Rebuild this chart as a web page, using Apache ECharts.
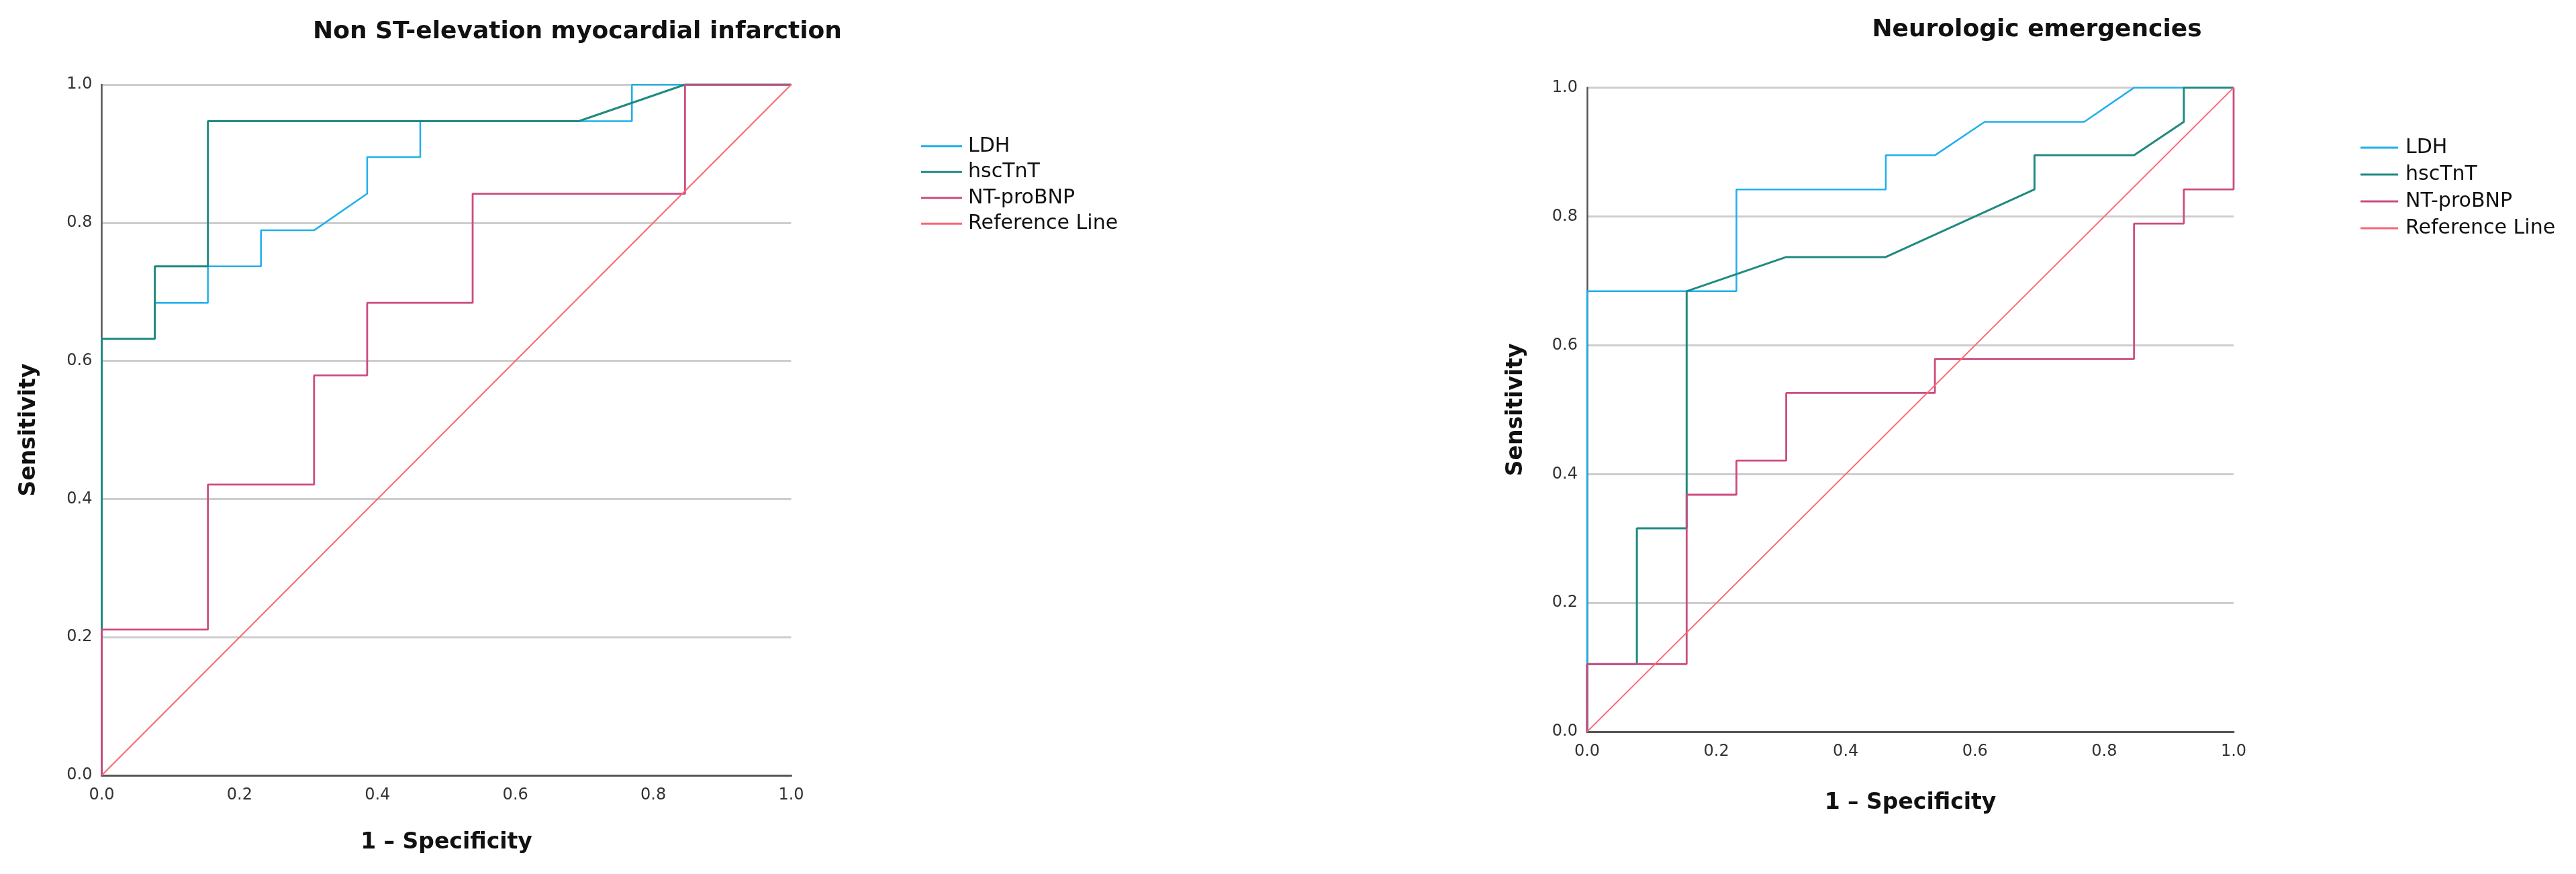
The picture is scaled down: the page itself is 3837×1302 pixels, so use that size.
<!DOCTYPE html>
<html>
<head>
<meta charset="utf-8">
<script src="https://cdn.jsdelivr.net/npm/echarts@6/dist/echarts.min.js"></script>
<style>
html,body{margin:0;padding:0;background:#fff;}
#chart{width:3837px;height:1302px;}
</style>
</head>
<body>
<div id="chart"></div>
<script>
// ---- Data (1 - Specificity, Sensitivity) ----
const seriesNames = ['LDH', 'hscTnT', 'NT-proBNP', 'Reference Line'];
const axisTicks = [0.0, 0.2, 0.4, 0.6, 0.8, 1.0];

// Non ST-elevation myocardial infarction
const nstemiLDH = [[0,0],[0,0.632],[0.077,0.632],[0.077,0.684],[0.154,0.684],[0.154,0.737],[0.231,0.737],[0.231,0.789],[0.308,0.789],[0.385,0.842],[0.385,0.895],[0.462,0.895],[0.462,0.947],[0.769,0.947],[0.769,1],[1,1]];
const nstemiHscTnT = [[0,0],[0,0.632],[0.077,0.632],[0.077,0.737],[0.154,0.737],[0.154,0.947],[0.692,0.947],[0.846,1],[1,1]];
const nstemiNTproBNP = [[0,0],[0,0.211],[0.154,0.211],[0.154,0.421],[0.308,0.421],[0.308,0.579],[0.385,0.579],[0.385,0.684],[0.538,0.684],[0.538,0.842],[0.846,0.842],[0.846,1],[1,1]];

// Neurologic emergencies
const neuroLDH = [[0,0],[0,0.684],[0.231,0.684],[0.231,0.842],[0.462,0.842],[0.462,0.895],[0.538,0.895],[0.615,0.947],[0.769,0.947],[0.846,1],[1,1]];
const neuroHscTnT = [[0,0],[0,0.105],[0.077,0.105],[0.077,0.316],[0.154,0.316],[0.154,0.684],[0.308,0.737],[0.462,0.737],[0.692,0.842],[0.692,0.895],[0.846,0.895],[0.923,0.947],[0.923,1],[1,1]];
const neuroNTproBNP = [[0,0],[0,0.105],[0.154,0.105],[0.154,0.368],[0.231,0.368],[0.231,0.421],[0.308,0.421],[0.308,0.526],[0.538,0.526],[0.538,0.579],[0.846,0.579],[0.846,0.789],[0.923,0.789],[0.923,0.842],[1,0.842],[1,1]];

const referenceLine = [[0,0],[1,1]];

// ---- Styling ----
const colors = {'LDH':'#1fb0ec','hscTnT':'#1f8a80','NT-proBNP':'#cc4c80','Reference Line':'#fb6673'};
const widths = {'LDH':2.5,'hscTnT':3,'NT-proBNP':2.8,'Reference Line':2};
const FONT = 'DejaVu Sans';

function makeSeries(name, data, idx) {
  return {
    name: name, type: 'line', data: data,
    xAxisIndex: idx, yAxisIndex: idx,
    showSymbol: false, symbol: 'none',
    lineStyle: {color: colors[name], width: widths[name]},
    itemStyle: {color: colors[name]},
    emphasis: {disabled: true},
    animation: false
  };
}

function xAxisCfg(idx, nameGap) {
  return {
    gridIndex: idx, type: 'value', min: 0, max: 1, interval: 0.2,
    name: '1 \u2013 Specificity', nameLocation: 'middle', nameGap: nameGap,
    nameTextStyle: {fontFamily: FONT, fontWeight: 'bold', fontSize: 33, color: '#111'},
    axisLine: {show: true, lineStyle: {color: '#555', width: 3}},
    axisTick: {show: false},
    axisLabel: {fontFamily: FONT, fontSize: 24, color: '#333', margin: 18,
      formatter: v => axisTicks.includes(Math.round(v*10)/10) ? v.toFixed(1) : ''},
    splitLine: {show: false}
  };
}
function yAxisCfg(idx, nameGap) {
  return {
    gridIndex: idx, type: 'value', min: 0, max: 1, interval: 0.2,
    name: 'Sensitivity', nameLocation: 'middle', nameGap: nameGap,
    nameTextStyle: {fontFamily: FONT, fontWeight: 'bold', fontSize: 33, color: '#111'},
    axisLine: {show: true, lineStyle: {color: '#555', width: 2.5}},
    axisTick: {show: false},
    axisLabel: {fontFamily: FONT, fontSize: 24, color: '#333', margin: 14,
      formatter: v => v.toFixed(1)},
    splitLine: {show: true, lineStyle: {color: '#cdcdcd', width: 3}}
  };
}

const chart = echarts.init(document.getElementById('chart'), null, {renderer: 'canvas'});
chart.setOption({
  backgroundColor: '#ffffff',
  animation: false,
  title: [
    {text: 'Non ST-elevation myocardial infarction', left: 860, top: 30, textAlign: 'center', padding: 0,
     textStyle: {fontFamily: FONT, fontWeight: 'bold', fontSize: 36, color: '#111'}},
    {text: 'Neurologic emergencies', left: 3034, top: 27, textAlign: 'center', padding: 0,
     textStyle: {fontFamily: FONT, fontWeight: 'bold', fontSize: 36, color: '#111'}}
  ],
  legend: [
    {data: seriesNames, orient: 'vertical', left: 1372, top: 198.5, padding: 0,
     icon: 'rect', itemWidth: 61, itemHeight: 3, itemGap: 0, selectedMode: false,
     textStyle: {fontFamily: FONT, fontSize: 30, color: '#111', lineHeight: 38.5, padding: [0,0,0,4]}},
    {data: seriesNames, orient: 'vertical', left: 3516, top: 200, padding: 0,
     icon: 'rect', itemWidth: 56, itemHeight: 3, itemGap: 0, selectedMode: false,
     textStyle: {fontFamily: FONT, fontSize: 30, color: '#111', lineHeight: 40, padding: [0,0,0,6]}}
  ],
  grid: [
    {left: 151.5, top: 126, width: 1027, height: 1029, containLabel: false},
    {left: 2364, top: 130.6, width: 963, height: 959.5, containLabel: false}
  ],
  xAxis: [xAxisCfg(0, 84), xAxisCfg(1, 90)],
  yAxis: [yAxisCfg(0, 92), yAxisCfg(1, 89)],
  series: [
    makeSeries('LDH', nstemiLDH, 0),
    makeSeries('hscTnT', nstemiHscTnT, 0),
    makeSeries('NT-proBNP', nstemiNTproBNP, 0),
    makeSeries('Reference Line', referenceLine, 0),
    makeSeries('LDH', neuroLDH, 1),
    makeSeries('hscTnT', neuroHscTnT, 1),
    makeSeries('NT-proBNP', neuroNTproBNP, 1),
    makeSeries('Reference Line', referenceLine, 1)
  ]
});
</script>
</body>
</html>
